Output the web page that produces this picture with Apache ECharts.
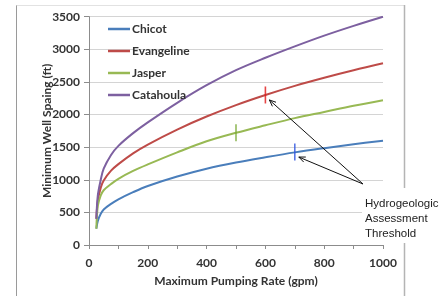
<!DOCTYPE html>
<html>
<head>
<meta charset="utf-8">
<script src="https://cdn.jsdelivr.net/npm/echarts@6/dist/echarts.min.js"></script>
<style>html,body{margin:0;padding:0;background:#fff}#c{width:443px;height:296px}</style>
</head>
<body>
<div id="c"></div>
<script>
const rates = [25, 30, 40, 50, 75, 100, 150, 200, 300, 400, 500, 600, 700, 800, 900, 1000];
const chicot = [250, 370, 480, 545, 630, 700, 810, 905, 1050, 1170, 1265, 1345, 1420, 1485, 1545, 1600];
const evangeline = [400, 680, 880, 990, 1140, 1240, 1405, 1540, 1770, 1970, 2145, 2300, 2440, 2565, 2680, 2785];
const jasper = [250, 600, 760, 840, 935, 1015, 1135, 1235, 1420, 1590, 1720, 1835, 1945, 2040, 2135, 2220];
const catahoula = [400, 760, 1000, 1170, 1380, 1520, 1715, 1880, 2180, 2450, 2680, 2870, 3045, 3210, 3360, 3500];
const seriesNames = ['Chicot', 'Evangeline', 'Jasper', 'Catahoula'];
const thresholdRate = [700, 600, 500];
const thresholdSpacing = [1425, 2300, 1720];
const thresholdNames = ['Chicot', 'Evangeline', 'Jasper'];
const xTicks = [0, 200, 400, 600, 800, 1000];
const yTicks = [0, 500, 1000, 1500, 2000, 2500, 3000, 3500];
const annotationLines = ['Hydrogeologic', 'Assessment', 'Threshold'];

const lineColors = ['#4a7ebb', '#be4b48', '#98b954', '#7d60a0'];
const tickColors = ['#2f55e0', '#e01818', '#77a832'];
const allValues = [chicot, evangeline, jasper, catahoula];

const chart = echarts.init(document.getElementById('c'), null, {renderer: 'canvas'});
const font = 'Lato, "Open Sans", sans-serif';

const series = seriesNames.map((n, i) => ({
  name: n, type: 'line', smooth: 0.35, symbol: 'none',
  data: rates.map((q, k) => [q, allValues[i][k]]),
  lineStyle: {width: 2, color: lineColors[i]},
  itemStyle: {color: lineColors[i]}, z: 3
}));
thresholdRate.forEach((q, i) => {
  series.push({
    name: thresholdNames[i] + ' threshold', type: 'scatter',
    data: [[q, thresholdSpacing[i]]],
    symbol: 'rect', symbolSize: [1.6, 17],
    itemStyle: {color: tickColors[i]}, z: 4, silent: true
  });
});

chart.setOption({
  animation: false,
  backgroundColor: '#fff',
  grid: {left: 89, right: 60, top: 16.7, bottom: 51},
  legend: {
    data: seriesNames, orient: 'vertical', left: 103, top: 13,
    icon: 'rect', itemWidth: 22, itemHeight: 2.5, itemGap: 0,
    textStyle: {fontFamily: font, fontWeight: 'bold', fontSize: 12, color: '#333', lineHeight: 22, padding: [0, 0, 0, -3]}
  },
  xAxis: {
    type: 'value', min: 0, max: 1000, interval: 100,
    name: 'Maximum Pumping Rate (gpm)', nameLocation: 'middle', nameGap: 30, nameMoveOverlap: false,
    nameTextStyle: {fontFamily: font, fontWeight: 'bold', fontSize: 12, color: '#333'},
    axisLine: {lineStyle: {color: '#8c8c8c'}},
    axisTick: {show: true, length: 4, lineStyle: {color: '#8c8c8c'}},
    axisLabel: {
      margin: 12, fontFamily: font, fontWeight: 'bold', fontSize: 12, color: '#333',
      formatter: v => xTicks.indexOf(v) >= 0 ? String(v) : ''
    },
    splitLine: {show: false}
  },
  yAxis: {
    type: 'value', min: 0, max: 3500, interval: 500,
    name: 'Minimum Well Spaing (ft)', nameLocation: 'middle', nameGap: 36, nameMoveOverlap: false,
    nameTextStyle: {fontFamily: font, fontWeight: 'bold', fontSize: 12, color: '#333'},
    axisLine: {show: true, lineStyle: {color: '#8c8c8c'}},
    axisTick: {show: true, length: 5, lineStyle: {color: '#8c8c8c'}},
    axisLabel: {
      margin: 9, fontFamily: font, fontWeight: 'bold', fontSize: 12, color: '#333',
      formatter: v => yTicks.indexOf(v) >= 0 ? String(v) : ''
    },
    splitLine: {lineStyle: {color: '#d4d4d4'}}
  },
  series: series
});

// annotation: border, text box and arrows
const anchor = [363, 184];
const graphics = [
  {type: 'line', shape: {x1: 16.5, y1: 5, x2: 16.5, y2: 296}, style: {stroke: '#9a9a9a', lineWidth: 1}, z: 0},
  {type: 'line', shape: {x1: 16.5, y1: 5.5, x2: 405, y2: 5.5}, style: {stroke: '#e2e2e2', lineWidth: 1}, z: 0},
  {type: 'line', shape: {x1: 404.5, y1: 5, x2: 404.5, y2: 296}, style: {stroke: '#b4b4b4', lineWidth: 1.5}, z: 0},
  {type: 'rect', shape: {x: 362, y: 188, width: 81, height: 55}, style: {fill: '#fff'}, z: 50},
  {type: 'text', left: 365, top: 196, z: 51,
   style: {text: annotationLines.join('\n'), font: '11.5px "Liberation Sans", Arial, sans-serif', fill: '#222', lineHeight: 15}}
];
[0, 1].forEach(i => {
  const p = chart.convertToPixel({gridIndex: 0}, [thresholdRate[i], thresholdSpacing[i]]);
  const end = [p[0] + 4, p[1] + 5];
  const ang = Math.atan2(anchor[1] - end[1], anchor[0] - end[0]);
  const L = 7, a = 0.4;
  graphics.push({type: 'line', shape: {x1: anchor[0], y1: anchor[1], x2: end[0], y2: end[1]}, style: {stroke: '#111', lineWidth: 1}, z: 60});
  graphics.push({type: 'polyline', shape: {points: [
    [end[0] + L * Math.cos(ang + a), end[1] + L * Math.sin(ang + a)], end,
    [end[0] + L * Math.cos(ang - a), end[1] + L * Math.sin(ang - a)]]},
    style: {stroke: '#111', lineWidth: 1, fill: null}, z: 60});
});
chart.setOption({graphic: graphics});
</script>
</body>
</html>
